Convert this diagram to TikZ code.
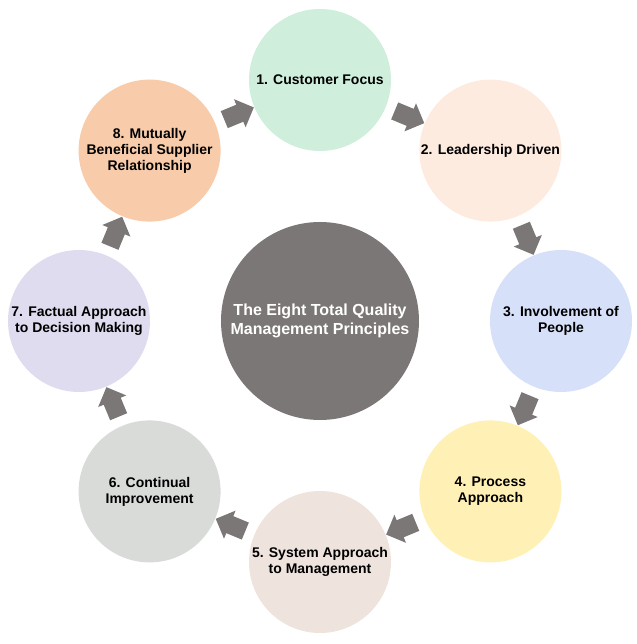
\documentclass[tikz,border=0pt]{standalone}
\usepackage{fontspec}
\setmainfont{Liberation Sans}
\usetikzlibrary{shapes.arrows, calc}
\definecolor{qgray}{HTML}{7B7776}
\definecolor{qc1}{HTML}{CFEFDC}
\definecolor{qc2}{HTML}{FEEBE0}
\definecolor{qc3}{HTML}{D6E0F8}
\definecolor{qc4}{HTML}{FFF1B5}
\definecolor{qc5}{HTML}{EEE3DD}
\definecolor{qc6}{HTML}{D9DBD9}
\definecolor{qc7}{HTML}{E0DCF0}
\definecolor{qc8}{HTML}{F8CCAA}

\begin{document}
\begin{tikzpicture}[x=1pt, y=1pt,
    principle/.style={circle, minimum size=142pt, inner sep=0pt, align=center, font=\fontsize{14}{16}\selectfont\bfseries},
    flow/.style={single arrow, fill=qgray, minimum height=32pt, inner xsep=0pt, inner ysep=9pt, single arrow head extend=6pt}]

                      \useasboundingbox (-320,-323) rectangle (316,321);

                      \node[principle, fill=qgray, minimum size=198pt, text=white, font=\fontsize{16}{19}\selectfont\bfseries] (tqm) at (0,0) {The Eight Total Quality\\Management Principles};

                      \foreach \i/\txt in {1/{1. Customer Focus}, 2/{2. Leadership Driven}, 3/{3. Involvement of\\People}, 4/{4. Process\\Approach},
                                          5/{5. System Approach\\to Management}, 6/{6. Continual\\Improvement}, 7/{7. Factual Approach\\to Decision Making},
                                          8/{8. Mutually\\Beneficial Supplier\\Relationship}}{
                          \node[principle, fill=qc\i] (p\i) at ({135-45*\i}:241) {\txt};
                      }

                      % arrows half way between neighbours
                      \foreach \i [evaluate=\i as \j using {int(mod(\i,8)+1)}] in {1,...,8}{
                          \node[flow, rotate={22.5-45*\i}] (a\i) at ($(p\i)!0.5!(p\j)$) {};
                      }

                    \end{tikzpicture}
\end{document}
